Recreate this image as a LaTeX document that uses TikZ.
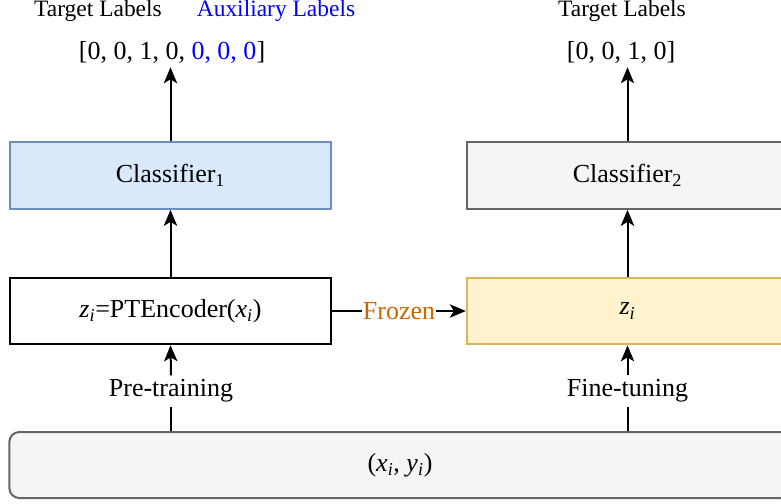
\documentclass[tikz,border=0pt]{standalone}
\usepackage{fontspec}
\setmainfont{Liberation Serif}
\usetikzlibrary{arrows.meta}

\definecolor{clsblue}{HTML}{DAE8FC}
\definecolor{clsblueline}{HTML}{6C8EBF}
\definecolor{greyfill}{HTML}{F5F5F5}
\definecolor{greyline}{HTML}{666666}
\definecolor{zfill}{HTML}{FFF2CC}
\definecolor{zline}{HTML}{D6B656}
\definecolor{frozen}{HTML}{CC6600}

% italic variable with italic subscript
\newcommand{\isub}[2]{\textit{#1}\textsubscript{\textit{#2}}}

\tikzset{
  box/.style={draw, line width=1.5pt, minimum width=241pt, minimum height=50pt, inner sep=0pt},
  lbl/.style={font=\fontsize{17.6}{20}\selectfont, inner sep=0pt, anchor=base},
  flow/.style={line width=1.5pt, -{Stealth[length=12pt, width=10pt, inset=3pt]}},
}

\begin{document}
\begin{tikzpicture}[x=0.75pt, y=-0.75pt, font=\fontsize{19.5}{23}\selectfont]
\clip (0,0) rectangle (781,503);

% boxes
\node[box, draw=clsblueline, fill=clsblue] (cls1) at (170.5, 175.5) {Classifier\textsubscript{1}};
\node[box, fill=white] (enc) at (170.5, 311) {\isub{z}{i}=PTEncoder(\isub{x}{i})};
\node[box, draw=greyline, fill=greyfill] (cls2) at (627.5, 175.5) {Classifier\textsubscript{2}};
\node[box, draw=zline, fill=zfill] (zi) at (627.5, 311) {\isub{z}{i}};
\node[draw=greyline, fill=greyfill, line width=1.5pt, rounded corners=7.5pt,
  minimum width=586pt, minimum height=49.5pt, inner sep=0pt] (data) at (400, 465) {(\isub{x}{i}, \isub{y}{i})};

% labels on top
\node[lbl] (tgt1) at (98, 17) {Target Labels};
\node[lbl, text=blue] (aux) at (276, 17) {Auxiliary Labels};
\node[lbl] (tgt2) at (622, 17) {Target Labels};
\node[inner sep=3pt] (vec1) at (172, 52) {[0, 0, 1, 0, \textcolor{blue}{0, 0, 0}]};
\node[inner sep=3pt] (vec2) at (621, 52) {[0, 0, 1, 0]};

% stage labels
\node[inner sep=3pt] (pre) at (171, 391) {Pre-training};
\node[inner sep=3pt] (fine) at (627.5, 391) {Fine-tuning};

% arrows
\draw[flow] (cls1.north) -- (cls1.north |- vec1.south);
\draw[flow] (enc.north) -- (cls1.south);
\draw[flow] (cls2.north) -- (cls2.north |- vec2.south);
\draw[flow] (zi.north) -- (cls2.south);
\draw[line width=1.5pt] (pre.south |- data.north) -- (pre.south);
\draw[flow] (pre.north) -- (enc.south);
\draw[line width=1.5pt] (fine.south |- data.north) -- (fine.south);
\draw[flow] (fine.north) -- (zi.south);
\draw[flow] (enc.east) -- node[fill=white, inner sep=1pt, text=frozen] (frz) {Frozen} (zi.west);
\end{tikzpicture}
\end{document}
